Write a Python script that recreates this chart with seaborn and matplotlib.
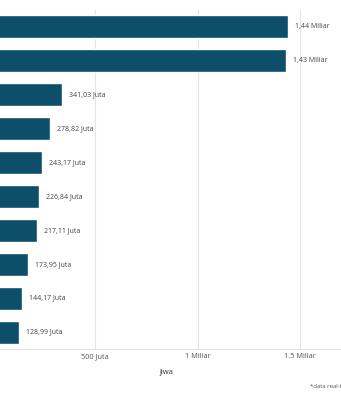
import matplotlib
matplotlib.use("Agg")
import matplotlib.pyplot as plt
import seaborn as sns
import pandas as pd

countries = ["Tiongkok", "India", "Amerika Serikat", "Indonesia", "Pakistan",
             "Nigeria", "Brasil", "Bangladesh", "Rusia", "Meksiko"]
populasi_juta = [1440, 1430, 341.03, 278.82, 243.17, 226.84, 217.11, 173.95, 144.17, 128.99]
value_labels = ["1,44 Miliar", "1,43 Miliar", "341,03 Juta", "278,82 Juta", "243,17 Juta",
                "226,84 Juta", "217,11 Juta", "173,95 Juta", "144,17 Juta", "128,99 Juta"]
tick_values = [500, 1000, 1500]
tick_labels = ["500 Juta", "1 Miliar", "1.5 Miliar"]

df = pd.DataFrame({"negara": countries, "jiwa": populasi_juta})

sns.set_theme(style="white")
plt.rcParams["font.family"] = ["Open Sans", "DejaVu Sans"]

fig = plt.figure(figsize=(3.41, 4.00), dpi=100)
W, H = 341, 400
ax = fig.add_axes([-7.5 / W, (H - 349) / H, 348.5 / W, 339 / H])

sns.barplot(data=df, x="jiwa", y="negara", color="#0d4f6b", saturation=1,
            width=0.68, ax=ax, zorder=3)

ax.set_xlim(0, 1700)
ax.set_xticks(tick_values)
ax.set_xticklabels(tick_labels, fontsize=5.3, color="#555555")
ax.tick_params(axis="x", length=0, pad=3)
ax.tick_params(axis="y", length=0)
ax.set_yticklabels([])
ax.set_ylabel("")
ax.set_xlabel("jiwa", fontsize=5.5, color="#333333", labelpad=6)

ax.grid(axis="x", color="#e3e3e3", linewidth=0.8, zorder=0)
for s in ["top", "right", "left"]:
    ax.spines[s].set_visible(False)
ax.spines["bottom"].set_color("#e3e3e3")
ax.spines["bottom"].set_linewidth(0.8)

for i, (v, lab) in enumerate(zip(populasi_juta, value_labels)):
    ax.annotate(lab, xy=(v, i), xytext=(5, 0), textcoords="offset points",
                va="center", ha="left", fontsize=5, color="#444444")

fig.text(310 / W, 1 - 387 / H, "*data real-time", fontsize=4.3, color="#555555",
         ha="left", va="center")

fig.savefig("out.png", dpi=100)
